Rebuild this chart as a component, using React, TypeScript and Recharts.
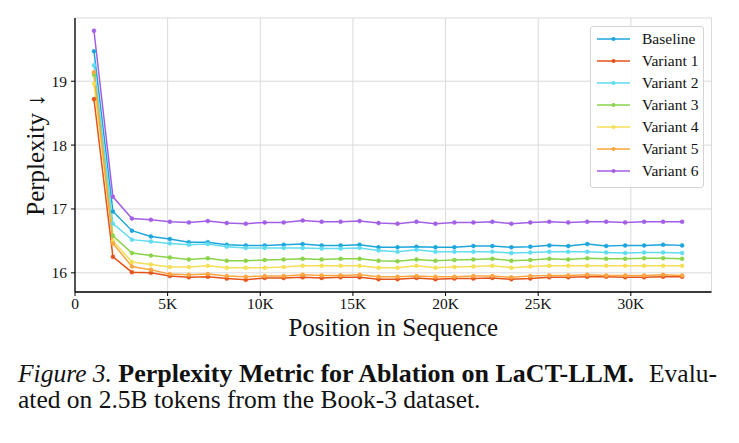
import { LineChart, Line, XAxis, YAxis, CartesianGrid, Label } from 'recharts'

const positions = [
  1024, 2048, 3072, 4096, 5120, 6144, 7168, 8192, 9216, 10240, 11264, 12288, 13312, 14336, 15360, 16384,
  17408, 18432, 19456, 20480, 21504, 22528, 23552, 24576, 25600, 26624, 27648, 28672, 29696, 30720, 31744, 32768,
]

const baseline = [
  19.47, 16.96, 16.66, 16.57, 16.53, 16.48, 16.48, 16.44, 16.43,
  16.43, 16.44, 16.45, 16.43, 16.43, 16.44, 16.40, 16.40, 16.41, 16.40, 16.40, 16.42, 16.42,
  16.40, 16.41, 16.43, 16.42, 16.45, 16.42, 16.43, 16.43, 16.44, 16.43,
]
const variant1 = [
  18.72, 16.25, 16.01, 16.0, 15.95, 15.93, 15.94, 15.91, 15.89,
  15.92, 15.92, 15.93, 15.92, 15.93, 15.93, 15.90, 15.90, 15.92, 15.90, 15.91, 15.91, 15.92,
  15.90, 15.91, 15.93, 15.93, 15.94, 15.94, 15.93, 15.93, 15.94, 15.94,
]
const variant2 = [
  19.25, 16.77, 16.52, 16.49, 16.46, 16.44, 16.45, 16.41, 16.39,
  16.39, 16.39, 16.39, 16.38, 16.38, 16.39, 16.35, 16.33, 16.36, 16.33, 16.33, 16.33, 16.33,
  16.31, 16.32, 16.33, 16.33, 16.33, 16.32, 16.31, 16.32, 16.32, 16.31,
]
const variant3 = [
  19.1, 16.58, 16.31, 16.27, 16.24, 16.21, 16.23, 16.19, 16.19,
  16.20, 16.21, 16.22, 16.21, 16.22, 16.22, 16.19, 16.18, 16.21, 16.19, 16.20, 16.21, 16.22,
  16.19, 16.20, 16.22, 16.21, 16.23, 16.22, 16.22, 16.23, 16.23, 16.22,
]
const variant4 = [
  18.96, 16.5, 16.17, 16.13, 16.09, 16.09, 16.11, 16.08, 16.08,
  16.08, 16.09, 16.11, 16.11, 16.11, 16.11, 16.08, 16.08, 16.11, 16.08, 16.09, 16.10, 16.11,
  16.08, 16.10, 16.11, 16.11, 16.11, 16.11, 16.11, 16.11, 16.11, 16.11,
]
const variant5 = [
  19.14, 16.46, 16.1, 16.05, 15.98, 15.97, 15.98, 15.95, 15.94,
  15.95, 15.95, 15.97, 15.96, 15.96, 15.97, 15.94, 15.94, 15.95, 15.94, 15.94, 15.95, 15.95,
  15.93, 15.95, 15.96, 15.96, 15.97, 15.96, 15.96, 15.96, 15.97, 15.96,
]
const variant6 = [
  19.79, 17.19, 16.85, 16.83, 16.8, 16.79, 16.81, 16.78, 16.77,
  16.79, 16.79, 16.82, 16.80, 16.80, 16.81, 16.78, 16.77, 16.80, 16.77, 16.79, 16.79, 16.80,
  16.77, 16.79, 16.80, 16.79, 16.80, 16.80, 16.79, 16.80, 16.80, 16.80,
]

const xTicks = [0, 5000, 10000, 15000, 20000, 25000, 30000]
const yTicks = [16, 17, 18, 19]

const series = [
  { key: 'Baseline', values: baseline, color: '#1ea6dc' },
  { key: 'Variant 1', values: variant1, color: '#e4531b' },
  { key: 'Variant 2', values: variant2, color: '#62dcf0' },
  { key: 'Variant 3', values: variant3, color: '#8bd34a' },
  { key: 'Variant 4', values: variant4, color: '#f4df57' },
  { key: 'Variant 5', values: variant5, color: '#fba640' },
  { key: 'Variant 6', values: variant6, color: '#a25fe6' },
]

const data = positions.map((pos, i) => {
  const row: Record<string, number> = { pos }
  series.forEach(s => { row[s.key] = s.values[i] })
  return row
})

const serif = '"Liberation Serif", "Times New Roman", serif'
const tickStyle = { fontSize: 15.5, fontFamily: serif, fill: '#111' }
const axisTitle = { fontSize: 25, fontFamily: serif, fill: '#111' }

export default function App() {
  return (
    <div style={{ position: 'absolute', left: 0, top: 0, width: 739, height: 443, background: '#fff', fontFamily: serif }}>
      <LineChart width={739} height={362} data={data} margin={{ top: 18, right: 27.5, left: 0, bottom: 0 }}>
        <CartesianGrid stroke="#dadada" strokeWidth={1} />
        <XAxis
          dataKey="pos"
          type="number"
          domain={[0, 34355]}
          ticks={xTicks}
          tickFormatter={(v: number) => (v === 0 ? '0' : `${v / 1000}K`)}
          tick={tickStyle}
          tickSize={4}
          tickLine={{ stroke: '#000' }}
          axisLine={{ stroke: '#000', strokeWidth: 1.3 }}
          height={70}
          allowDataOverflow
        >
          <Label value="Position in Sequence" position="center" style={axisTitle} />
        </XAxis>
        <XAxis xAxisId="top" orientation="top" type="number" domain={[0, 34355]} tick={false} tickLine={false} height={0} axisLine={{ stroke: '#000', strokeWidth: 1.3 }} />
        <YAxis
          type="number"
          domain={[15.7, 19.99]}
          ticks={yTicks}
          tick={tickStyle}
          tickSize={4}
          tickMargin={4}
          tickLine={{ stroke: '#000' }}
          axisLine={{ stroke: '#000', strokeWidth: 1.3 }}
          width={75}
          allowDataOverflow
        >
          <Label value="Perplexity ↓" position="center" angle={-90} dx={-2} style={axisTitle} />
        </YAxis>
        <YAxis yAxisId="right" orientation="right" type="number" domain={[15.7, 19.99]} tick={false} tickLine={false} width={0} axisLine={{ stroke: '#000', strokeWidth: 1.3 }} />
        {series.map(s => (
          <Line
            key={s.key}
            dataKey={s.key}
            stroke={s.color}
            strokeWidth={1.5}
            dot={{ r: 2, fill: s.color, stroke: s.color, strokeWidth: 0.5 }}
            isAnimationActive={false}
          />
        ))}
      </LineChart>

      <div style={{ position: 'absolute', left: 590, top: 26, width: 114, padding: '1px 0 5px', background: 'rgba(255,255,255,0.9)', border: '1px solid #d4d4d4', borderRadius: 3, boxSizing: 'border-box' }}>
        {series.map(s => (
          <div key={s.key} style={{ height: 22, display: 'flex', alignItems: 'center', fontSize: 15.5, color: '#111' }}>
            <svg width={51} height={22} style={{ flex: 'none' }}>
              <line x1={6} x2={39} y1={11} y2={11} stroke={s.color} strokeWidth={1.5} />
              <circle cx={22.5} cy={11} r={2} fill={s.color} />
            </svg>
            <span>{s.key}</span>
          </div>
        ))}
      </div>

      <div style={{ position: 'absolute', left: 18, top: 360.5, width: 699, fontSize: 25.5, lineHeight: 1, color: '#111', display: 'flex', justifyContent: 'space-between', alignItems: 'baseline', whiteSpace: 'pre' }}>
        <span><i>Figure 3.</i> <b style={{ fontSize: 26 }}>Perplexity Metric for Ablation on LaCT-LLM.</b></span>
        <span>Evalu-</span>
      </div>
      <div style={{ position: 'absolute', left: 18, top: 387, fontSize: 25.5, lineHeight: 1, whiteSpace: 'nowrap', color: '#111' }}>
        ated on 2.5B tokens from the Book-3 dataset.
      </div>
    </div>
  )
}
